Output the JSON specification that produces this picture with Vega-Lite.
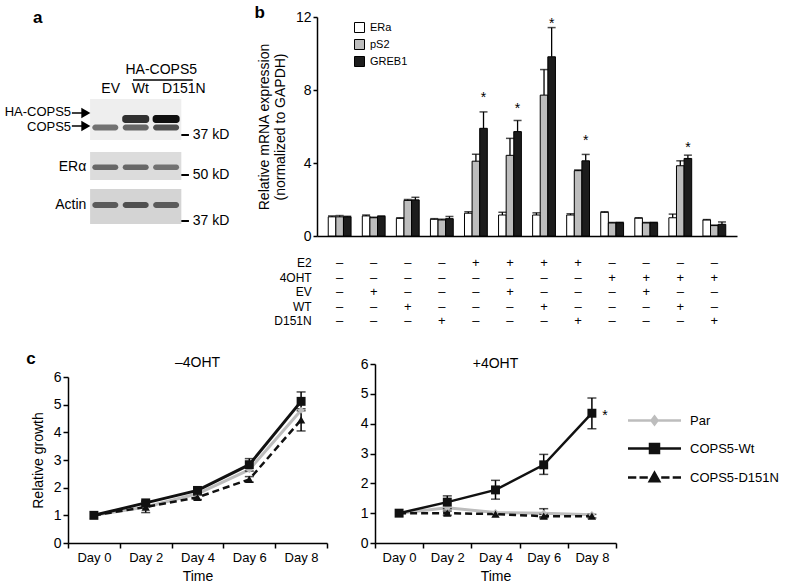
{
 "$schema": "https://vega.github.io/schema/vega-lite/v6.json",
 "padding": {"left": 4, "top": 4, "right": 0, "bottom": 0},
 "config": {
  "font": "Liberation Sans",
  "view": {"stroke": null},
  "axis": {"domainColor": "#000", "tickColor": "#000", "labelColor": "#000", "titleColor": "#000", "domainWidth": 1.5, "tickWidth": 1.5, "labelFontSize": 13, "titleFontSize": 14, "titleFontWeight": "normal", "grid": false, "tickSize": 5},
  "legend": {"labelColor": "#000"},
  "text": {"color": "#000"}
 },
 "datasets": {
  "expr": [
   {"g":"1","gene":"ERa","v":1.05,"hi":1.1},{"g":"1","gene":"pS2","v":1.05,"hi":1.12},{"g":"1","gene":"GREB1","v":1.05,"hi":1.08},
   {"g":"2","gene":"ERa","v":1.1,"hi":1.15},{"g":"2","gene":"pS2","v":1.0,"hi":1.03},{"g":"2","gene":"GREB1","v":1.08,"hi":1.1},
   {"g":"3","gene":"ERa","v":0.97,"hi":1.0},{"g":"3","gene":"pS2","v":1.95,"hi":2.0},{"g":"3","gene":"GREB1","v":1.98,"hi":2.12},
   {"g":"4","gene":"ERa","v":0.92,"hi":0.95},{"g":"4","gene":"pS2","v":0.88,"hi":0.92},{"g":"4","gene":"GREB1","v":0.95,"hi":1.07},
   {"g":"5","gene":"ERa","v":1.25,"hi":1.33},{"g":"5","gene":"pS2","v":4.1,"hi":4.48},{"g":"5","gene":"GREB1","v":5.9,"hi":6.8},
   {"g":"6","gene":"ERa","v":1.15,"hi":1.3},{"g":"6","gene":"pS2","v":4.42,"hi":5.35},{"g":"6","gene":"GREB1","v":5.72,"hi":6.33},
   {"g":"7","gene":"ERa","v":1.15,"hi":1.27},{"g":"7","gene":"pS2","v":7.72,"hi":9.12},{"g":"7","gene":"GREB1","v":9.82,"hi":11.42},
   {"g":"8","gene":"ERa","v":1.15,"hi":1.22},{"g":"8","gene":"pS2","v":3.58,"hi":3.62},{"g":"8","gene":"GREB1","v":4.12,"hi":4.47},
   {"g":"9","gene":"ERa","v":1.3,"hi":1.33},{"g":"9","gene":"pS2","v":0.72,"hi":0.74},{"g":"9","gene":"GREB1","v":0.73,"hi":0.75},
   {"g":"10","gene":"ERa","v":0.98,"hi":1.0},{"g":"10","gene":"pS2","v":0.72,"hi":0.74},{"g":"10","gene":"GREB1","v":0.73,"hi":0.75},
   {"g":"11","gene":"ERa","v":1.0,"hi":1.2},{"g":"11","gene":"pS2","v":3.85,"hi":4.12},{"g":"11","gene":"GREB1","v":4.25,"hi":4.43},
   {"g":"12","gene":"ERa","v":0.88,"hi":0.9},{"g":"12","gene":"pS2","v":0.57,"hi":0.6},{"g":"12","gene":"GREB1","v":0.64,"hi":0.77}
  ],
  "stars": [
   {"g":"5","gene":"GREB1","y":7.7},{"g":"6","gene":"GREB1","y":7.1},{"g":"7","gene":"GREB1","y":11.8},{"g":"8","gene":"GREB1","y":5.38},{"g":"11","gene":"GREB1","y":4.98}
  ],
  "design": [
   {"g":"1","E2":"–","4OHT":"–","EV":"–","WT":"–","D151N":"–"},
   {"g":"2","E2":"–","4OHT":"–","EV":"+","WT":"–","D151N":"–"},
   {"g":"3","E2":"–","4OHT":"–","EV":"–","WT":"+","D151N":"–"},
   {"g":"4","E2":"–","4OHT":"–","EV":"–","WT":"–","D151N":"+"},
   {"g":"5","E2":"+","4OHT":"–","EV":"–","WT":"–","D151N":"–"},
   {"g":"6","E2":"+","4OHT":"–","EV":"+","WT":"–","D151N":"–"},
   {"g":"7","E2":"+","4OHT":"–","EV":"–","WT":"+","D151N":"–"},
   {"g":"8","E2":"+","4OHT":"–","EV":"–","WT":"–","D151N":"+"},
   {"g":"9","E2":"–","4OHT":"+","EV":"–","WT":"–","D151N":"–"},
   {"g":"10","E2":"–","4OHT":"+","EV":"+","WT":"–","D151N":"–"},
   {"g":"11","E2":"–","4OHT":"+","EV":"–","WT":"+","D151N":"–"},
   {"g":"12","E2":"–","4OHT":"+","EV":"–","WT":"–","D151N":"+"}
  ],
  "growth": [
   {"panel":"minus","series":"Par","day":"Day 0","y":1.0},
   {"panel":"minus","series":"Par","day":"Day 2","y":1.3},
   {"panel":"minus","series":"Par","day":"Day 4","y":1.78},
   {"panel":"minus","series":"Par","day":"Day 6","y":2.65},
   {"panel":"minus","series":"Par","day":"Day 8","y":4.8},
   {"panel":"minus","series":"COPS5-D151N","day":"Day 0","y":1.0},
   {"panel":"minus","series":"COPS5-D151N","day":"Day 2","y":1.3,"lo":1.1,"hi":1.5},
   {"panel":"minus","series":"COPS5-D151N","day":"Day 4","y":1.65,"lo":1.57,"hi":1.73},
   {"panel":"minus","series":"COPS5-D151N","day":"Day 6","y":2.3,"lo":2.2,"hi":2.4},
   {"panel":"minus","series":"COPS5-D151N","day":"Day 8","y":4.45,"lo":4.05,"hi":4.85},
   {"panel":"minus","series":"COPS5-Wt","day":"Day 0","y":1.0},
   {"panel":"minus","series":"COPS5-Wt","day":"Day 2","y":1.45,"lo":1.38,"hi":1.52},
   {"panel":"minus","series":"COPS5-Wt","day":"Day 4","y":1.9,"lo":1.82,"hi":1.98},
   {"panel":"minus","series":"COPS5-Wt","day":"Day 6","y":2.83,"lo":2.6,"hi":3.05},
   {"panel":"minus","series":"COPS5-Wt","day":"Day 8","y":5.12,"lo":4.78,"hi":5.46},
   {"panel":"plus","series":"Par","day":"Day 0","y":1.0},
   {"panel":"plus","series":"Par","day":"Day 2","y":1.18},
   {"panel":"plus","series":"Par","day":"Day 4","y":1.02},
   {"panel":"plus","series":"Par","day":"Day 6","y":1.0,"lo":0.88,"hi":1.15},
   {"panel":"plus","series":"Par","day":"Day 8","y":0.95},
   {"panel":"plus","series":"COPS5-D151N","day":"Day 0","y":1.0},
   {"panel":"plus","series":"COPS5-D151N","day":"Day 2","y":1.0,"lo":0.93,"hi":1.07},
   {"panel":"plus","series":"COPS5-D151N","day":"Day 4","y":0.97},
   {"panel":"plus","series":"COPS5-D151N","day":"Day 6","y":0.9,"lo":0.84,"hi":0.96},
   {"panel":"plus","series":"COPS5-D151N","day":"Day 8","y":0.9,"lo":0.84,"hi":0.96},
   {"panel":"plus","series":"COPS5-Wt","day":"Day 0","y":1.0},
   {"panel":"plus","series":"COPS5-Wt","day":"Day 2","y":1.37,"lo":1.15,"hi":1.58},
   {"panel":"plus","series":"COPS5-Wt","day":"Day 4","y":1.78,"lo":1.47,"hi":2.1},
   {"panel":"plus","series":"COPS5-Wt","day":"Day 6","y":2.62,"lo":2.3,"hi":2.97},
   {"panel":"plus","series":"COPS5-Wt","day":"Day 8","y":4.35,"lo":3.83,"hi":4.86}
  ],
  "bands": [
   {"lane":2,"protein":"HA-COPS5","intensity":0.8},{"lane":3,"protein":"HA-COPS5","intensity":0.97},
   {"lane":1,"protein":"COPS5","intensity":0.5},{"lane":2,"protein":"COPS5","intensity":0.55},{"lane":3,"protein":"COPS5","intensity":0.65},
   {"lane":1,"protein":"ERα","intensity":0.55},{"lane":2,"protein":"ERα","intensity":0.55},{"lane":3,"protein":"ERα","intensity":0.5},
   {"lane":1,"protein":"Actin","intensity":0.6},{"lane":2,"protein":"Actin","intensity":0.65},{"lane":3,"protein":"Actin","intensity":0.6}
  ],
  "lanes": [{"lane":1,"label":"EV"},{"lane":2,"label":"Wt"},{"lane":3,"label":"D151N"}]
 },
 "bounds": "flush",
 "columns": 2,
 "spacing": {"row": 128, "column": 48},
 "resolve": {
  "scale": {"fill": "independent", "stroke": "independent", "shape": "independent", "color": "independent"},
  "legend": {"fill": "independent", "stroke": "independent", "shape": "independent", "color": "independent"}
 },
 "concat": [
  {
   "width": 201, "height": 219,
   "data": {"values": [{}]},
   "layer": [
    {"mark": {"type": "rect", "color": "#eeeeee"},
     "encoding": {"x": {"datum": 0.5, "type": "quantitative", "scale": {"domain": [-0.0625, 6.21875], "nice": false, "zero": false}, "axis": null}, "x2": {"datum": 3.5},
                  "y": {"datum": 8.2, "type": "quantitative", "scale": {"domain": [0, 21.9], "nice": false, "zero": false, "reverse": true}, "axis": null}, "y2": {"datum": 12.3}}},
    {"mark": {"type": "rect", "color": "#dcdcdc"},
     "encoding": {"x": {"datum": 0.5, "type": "quantitative"}, "x2": {"datum": 3.5}, "y": {"datum": 13.5, "type": "quantitative"}, "y2": {"datum": 16.3}}},
    {"mark": {"type": "rect", "color": "#d4d4d4"},
     "encoding": {"x": {"datum": 0.5, "type": "quantitative"}, "x2": {"datum": 3.5}, "y": {"datum": 17.2, "type": "quantitative"}, "y2": {"datum": 20.7}}},
    {"data": {"name": "bands"}, "transform": [{"filter": "datum.protein === 'HA-COPS5'"}],
     "mark": {"type": "bar", "width": 27, "cornerRadius": 3},
     "encoding": {"x": {"field": "lane", "type": "quantitative"}, "y": {"datum": 9.8, "type": "quantitative"}, "y2": {"datum": 10.6},
                  "color": {"field": "intensity", "type": "quantitative", "scale": {"domain": [0, 1], "range": ["#f0f0f0", "#050505"]}, "legend": null}}},
    {"data": {"name": "bands"}, "transform": [{"filter": "datum.protein === 'COPS5'"}],
     "mark": {"type": "bar", "width": 26, "cornerRadius": 3},
     "encoding": {"x": {"field": "lane", "type": "quantitative"}, "y": {"datum": 10.75, "type": "quantitative"}, "y2": {"datum": 11.35},
                  "color": {"field": "intensity", "type": "quantitative", "legend": null}}},
    {"data": {"name": "bands"}, "transform": [{"filter": "datum.protein === 'ERα'"}],
     "mark": {"type": "bar", "width": 26, "cornerRadius": 3},
     "encoding": {"x": {"field": "lane", "type": "quantitative"}, "y": {"datum": 14.75, "type": "quantitative"}, "y2": {"datum": 15.3},
                  "color": {"field": "intensity", "type": "quantitative", "legend": null}}},
    {"data": {"name": "bands"}, "transform": [{"filter": "datum.protein === 'Actin'"}],
     "mark": {"type": "bar", "width": 26, "cornerRadius": 3},
     "encoding": {"x": {"field": "lane", "type": "quantitative"}, "y": {"datum": 18.5, "type": "quantitative"}, "y2": {"datum": 19.1},
                  "color": {"field": "intensity", "type": "quantitative", "legend": null}}},
    {"data": {"name": "lanes"}, "mark": {"type": "text", "fontSize": 14, "align": "left", "dx": -4},
     "encoding": {"x": {"field": "lane", "type": "quantitative"}, "y": {"datum": 7.2, "type": "quantitative"}, "text": {"field": "label"}}},
    {"mark": {"type": "text", "fontSize": 14, "text": "HA-COPS5"},
     "encoding": {"x": {"datum": 2.84, "type": "quantitative"}, "y": {"datum": 5.3, "type": "quantitative"}}},
    {"mark": {"type": "rule", "strokeWidth": 1.5, "color": "#000"},
     "encoding": {"x": {"datum": 1.91, "type": "quantitative"}, "x2": {"datum": 3.875}, "y": {"datum": 6.3, "type": "quantitative"}}},
    {"mark": {"type": "text", "fontSize": 13, "align": "right", "text": "HA-COPS5"},
     "encoding": {"x": {"datum": -0.125, "type": "quantitative"}, "y": {"datum": 9.45, "type": "quantitative"}}},
    {"mark": {"type": "text", "fontSize": 13, "align": "right", "text": "COPS5"},
     "encoding": {"x": {"datum": -0.125, "type": "quantitative"}, "y": {"datum": 10.95, "type": "quantitative"}}},
    {"mark": {"type": "rule", "strokeWidth": 1.5, "color": "#000"},
     "encoding": {"x": {"datum": -0.1, "type": "quantitative"}, "x2": {"datum": 0.3}, "y": {"datum": 9.6, "type": "quantitative"}}},
    {"mark": {"type": "rule", "strokeWidth": 1.5, "color": "#000"},
     "encoding": {"x": {"datum": -0.1, "type": "quantitative"}, "x2": {"datum": 0.3}, "y": {"datum": 10.9, "type": "quantitative"}}},
    {"mark": {"type": "point", "shape": "triangle-right", "size": 110, "filled": true, "color": "#000", "opacity": 1},
     "encoding": {"x": {"datum": 0.36, "type": "quantitative"}, "y": {"datum": 9.6, "type": "quantitative"}}},
    {"mark": {"type": "point", "shape": "triangle-right", "size": 110, "filled": true, "color": "#000", "opacity": 1},
     "encoding": {"x": {"datum": 0.36, "type": "quantitative"}, "y": {"datum": 10.9, "type": "quantitative"}}},
    {"mark": {"type": "rule", "strokeWidth": 2, "color": "#000"},
     "encoding": {"x": {"datum": 3.5, "type": "quantitative"}, "x2": {"datum": 3.75}, "y": {"datum": 11.8, "type": "quantitative"}}},
    {"mark": {"type": "rule", "strokeWidth": 2, "color": "#000"},
     "encoding": {"x": {"datum": 3.5, "type": "quantitative"}, "x2": {"datum": 3.75}, "y": {"datum": 15.8, "type": "quantitative"}}},
    {"mark": {"type": "rule", "strokeWidth": 2, "color": "#000"},
     "encoding": {"x": {"datum": 3.5, "type": "quantitative"}, "x2": {"datum": 3.75}, "y": {"datum": 20.4, "type": "quantitative"}}},
    {"mark": {"type": "text", "fontSize": 14, "align": "left", "text": "37 kD"},
     "encoding": {"x": {"datum": 3.875, "type": "quantitative"}, "y": {"datum": 11.8, "type": "quantitative"}}},
    {"mark": {"type": "text", "fontSize": 14, "align": "left", "text": "50 kD"},
     "encoding": {"x": {"datum": 3.875, "type": "quantitative"}, "y": {"datum": 15.8, "type": "quantitative"}}},
    {"mark": {"type": "text", "fontSize": 14, "align": "left", "text": "37 kD"},
     "encoding": {"x": {"datum": 3.875, "type": "quantitative"}, "y": {"datum": 20.4, "type": "quantitative"}}},
    {"mark": {"type": "text", "fontSize": 14, "align": "right", "text": "ERα"},
     "encoding": {"x": {"datum": 0.375, "type": "quantitative"}, "y": {"datum": 15.0, "type": "quantitative"}}},
    {"mark": {"type": "text", "fontSize": 14, "align": "right", "text": "Actin"},
     "encoding": {"x": {"datum": 0.375, "type": "quantitative"}, "y": {"datum": 18.8, "type": "quantitative"}}},
    {"mark": {"type": "text", "fontSize": 17, "fontWeight": "bold", "text": "a"},
     "encoding": {"x": {"datum": -1.22, "type": "quantitative"}, "y": {"datum": 0.1, "type": "quantitative"}}}
   ]
  },
  {
   "width": 362, "height": 219,
   "resolve": {"scale": {"y": "independent"}, "axis": {"y": "independent"}},
   "layer": [
    {
     "data": {"name": "expr"},
     "layer": [
      {"mark": {"type": "bar", "stroke": "#000", "strokeWidth": 1},
       "encoding": {
        "x": {"field": "g", "type": "ordinal", "scale": {"domain": ["1","2","3","4","5","6","7","8","9","10","11","12"], "range": [-58, 362], "paddingInner": 0.33, "paddingOuter": 0.33}, "axis": {"labels": false, "ticks": false, "title": null}},
        "xOffset": {"field": "gene", "type": "nominal", "scale": {"domain": ["ERa", "pS2", "GREB1"]}},
        "y": {"field": "v", "type": "quantitative", "scale": {"domain": [0, 12], "nice": false}, "axis": {"offset": 58, "values": [0,2,4,6,8,10,12], "labelFontSize": 14, "title": ["Relative mRNA expression", "(normalized to GAPDH)"], "titlePadding": 8, "tickSize": 4, "labelPadding": 2}},
        "fill": {"field": "gene", "type": "nominal", "scale": {"domain": ["ERa", "pS2", "GREB1"], "range": ["#ffffff", "#bdbdbd", "#1c1c1c"]},
                 "legend": {"orient": "none", "legendX": -21, "legendY": 5, "title": null, "symbolType": "square", "symbolSize": 100, "symbolStrokeColor": "#000", "symbolStrokeWidth": 1, "labelFontSize": 11, "rowPadding": 2, "labelOffset": 5}}
       }},
      {"mark": {"type": "rule", "strokeWidth": 1.3, "color": "#000"},
       "encoding": {"x": {"field": "g", "type": "ordinal"}, "xOffset": {"field": "gene", "type": "nominal"}, "y": {"field": "v", "type": "quantitative"}, "y2": {"field": "hi"}}},
      {"mark": {"type": "tick", "thickness": 1.5, "size": 8, "color": "#000"},
       "encoding": {"x": {"field": "g", "type": "ordinal"}, "xOffset": {"field": "gene", "type": "nominal"}, "y": {"field": "hi", "type": "quantitative"}}},
      {"data": {"name": "stars"}, "mark": {"type": "text", "fontSize": 14, "baseline": "middle", "dy": 3},
       "encoding": {"x": {"field": "g", "type": "ordinal"}, "xOffset": {"field": "gene", "type": "nominal"}, "y": {"field": "y", "type": "quantitative"}, "text": {"value": "*"}}},
      {"data": {"values": [{}]}, "mark": {"type": "text", "fontSize": 17, "fontWeight": "bold", "text": "b", "dx": -80, "dy": -4},
       "encoding": {"x": {"datum": "1", "type": "ordinal"}, "y": {"datum": 12, "type": "quantitative"}}}
     ]
    },
    {
     "data": {"name": "design"},
     "transform": [{"fold": ["E2", "4OHT", "EV", "WT", "D151N"], "as": ["factor", "sign"]}],
     "layer": [
      {"mark": {"type": "text", "fontSize": 13},
       "encoding": {
        "x": {"field": "g", "type": "ordinal"},
        "y": {"field": "factor", "type": "nominal", "scale": {"type": "point", "domain": ["E2", "4OHT", "EV", "WT", "D151N"], "range": [246, 304], "padding": 0}, "axis": null},
        "text": {"field": "sign"}
       }},
      {"transform": [{"filter": "datum.g === '1'"}],
       "mark": {"type": "text", "fontSize": 12, "align": "right", "dx": -28},
       "encoding": {
        "x": {"field": "g", "type": "ordinal"},
        "y": {"field": "factor", "type": "nominal"},
        "text": {"field": "factor"}
       }}
     ]
    }
   ]
  },
  {
   "width": 259, "height": 179,
   "data": {"name": "growth"},
   "transform": [{"filter": "datum.panel === 'minus'"}],
   "encoding": {
    "x": {"field": "day", "type": "ordinal", "bandPosition": 0.5, "scale": {"type": "band", "paddingInner": 0, "paddingOuter": 0, "domain": ["Day 0", "Day 2", "Day 4", "Day 6", "Day 8"]}, "axis": {"tickBand": "extent", "title": "Time", "labelAngle": 0, "labelPadding": 3, "titlePadding": 5}},
    "y": {"field": "y", "type": "quantitative", "scale": {"domain": [0, 6], "range": [179, 13], "nice": false}, "axis": {"values": [0,1,2,3,4,5,6], "title": "Relative growth", "labelFontSize": 14, "titlePadding": 8}}
   },
   "layer": [
    {"transform": [{"filter": "datum.series === 'Par'"}], "mark": {"type": "line", "strokeWidth": 3, "color": "#bdbdbd"}},
    {"transform": [{"filter": "datum.series === 'COPS5-D151N'"}], "mark": {"type": "line", "strokeWidth": 2.5, "color": "#111111", "strokeDash": [7, 4]}},
    {"transform": [{"filter": "datum.series === 'COPS5-Wt'"}], "mark": {"type": "line", "strokeWidth": 3, "color": "#111111"}},
    {"transform": [{"filter": "isValid(datum.lo)"}], "mark": {"type": "rule", "strokeWidth": 1.5, "color": "#000"},
     "encoding": {"y": {"field": "lo", "type": "quantitative"}, "y2": {"field": "hi"}}},
    {"transform": [{"filter": "isValid(datum.lo)"}], "mark": {"type": "tick", "thickness": 1.5, "size": 9, "color": "#000"},
     "encoding": {"y": {"field": "lo", "type": "quantitative"}}},
    {"transform": [{"filter": "isValid(datum.hi)"}], "mark": {"type": "tick", "thickness": 1.5, "size": 9, "color": "#000"},
     "encoding": {"y": {"field": "hi", "type": "quantitative"}}},
    {"transform": [{"filter": "datum.series === 'Par'"}], "mark": {"type": "point", "shape": "diamond", "size": 50, "filled": true, "color": "#bdbdbd", "opacity": 1}},
    {"transform": [{"filter": "datum.series === 'COPS5-D151N'"}], "mark": {"type": "point", "shape": "triangle-up", "size": 70, "filled": true, "color": "#111111", "opacity": 1}},
    {"transform": [{"filter": "datum.series === 'COPS5-Wt'"}], "mark": {"type": "point", "shape": "square", "size": 80, "filled": true, "color": "#111111", "opacity": 1}},
    {"transform": [{"filter": "datum.series === 'Par' && datum.day === 'Day 0'"}], "mark": {"type": "text", "fontSize": 14, "text": "–4OHT"},
     "encoding": {"x": {"datum": "Day 4", "type": "ordinal", "bandPosition": 0.5}, "y": {"datum": 6.5, "type": "quantitative"}}},
    {"transform": [{"filter": "datum.series === 'Par' && datum.day === 'Day 0'"}], "mark": {"type": "text", "fontSize": 17, "fontWeight": "bold", "text": "c", "dx": -63},
     "encoding": {"x": {"datum": "Day 0", "type": "ordinal", "bandPosition": 0.5}, "y": {"datum": 6.65, "type": "quantitative"}}}
   ]
  },
  {
   "width": 241, "height": 179,
   "data": {"name": "growth"},
   "transform": [{"filter": "datum.panel === 'plus'"}],
   "encoding": {
    "x": {"field": "day", "type": "ordinal", "bandPosition": 0.5, "scale": {"type": "band", "paddingInner": 0, "paddingOuter": 0, "domain": ["Day 0", "Day 2", "Day 4", "Day 6", "Day 8"]}, "axis": {"tickBand": "extent", "title": "Time", "labelAngle": 0, "labelPadding": 3, "titlePadding": 5}},
    "y": {"field": "y", "type": "quantitative", "scale": {"domain": [0, 6], "nice": false}, "axis": {"values": [0,1,2,3,4,5,6], "title": null, "labelFontSize": 14}}
   },
   "layer": [
    {"transform": [{"filter": "datum.series === 'Par'"}], "mark": {"type": "line", "strokeWidth": 3, "color": "#bdbdbd"}},
    {"transform": [{"filter": "datum.series === 'COPS5-D151N'"}], "mark": {"type": "line", "strokeWidth": 2.5, "color": "#111111", "strokeDash": [7, 4]}},
    {"transform": [{"filter": "datum.series === 'COPS5-Wt'"}], "mark": {"type": "line", "strokeWidth": 2.5, "color": "#111111"}},
    {"transform": [{"filter": "isValid(datum.lo)"}], "mark": {"type": "rule", "strokeWidth": 1.5, "color": "#000"},
     "encoding": {"y": {"field": "lo", "type": "quantitative"}, "y2": {"field": "hi"}}},
    {"transform": [{"filter": "isValid(datum.lo)"}], "mark": {"type": "tick", "thickness": 1.5, "size": 9, "color": "#000"},
     "encoding": {"y": {"field": "lo", "type": "quantitative"}}},
    {"transform": [{"filter": "isValid(datum.hi)"}], "mark": {"type": "tick", "thickness": 1.5, "size": 9, "color": "#000"},
     "encoding": {"y": {"field": "hi", "type": "quantitative"}}},
    {"transform": [{"filter": "datum.series === 'Par'"}], "mark": {"type": "point", "shape": "diamond", "size": 50, "filled": true, "color": "#bdbdbd", "opacity": 1}},
    {"transform": [{"filter": "datum.series === 'COPS5-D151N'"}], "mark": {"type": "point", "shape": "triangle-up", "size": 70, "filled": true, "color": "#111111", "opacity": 1}},
    {"transform": [{"filter": "datum.series === 'COPS5-Wt'"}], "mark": {"type": "point", "shape": "square", "size": 80, "filled": true, "color": "#111111", "opacity": 1}},
    {"transform": [{"filter": "datum.day === 'Day 0'"}], "mark": {"type": "point", "opacity": 0},
     "encoding": {
      "shape": {"field": "series", "type": "nominal",
       "scale": {"domain": ["Par", "COPS5-Wt", "COPS5-D151N"], "range": [
        "M-5.3,0H5.3M0,-0.8L0.6,0L0,0.8L-0.6,0Z",
        "M-5.3,0H5.3M-0.9,-0.9H0.9V0.9H-0.9Z",
        "M-5.3,0H-3.64M-3,0H-1.34M1.34,0H3M3.64,0H5.3M0,-0.95L0.95,0.75H-0.95Z"]},
       "legend": {"orient": "none", "legendX": 273, "legendY": 50, "title": null, "symbolSize": 100, "labelOffset": 29, "labelFontSize": 13, "rowPadding": 9, "symbolStrokeWidth": 2.5, "symbolOpacity": 1}},
      "fill": {"field": "series", "type": "nominal", "scale": {"domain": ["Par", "COPS5-Wt", "COPS5-D151N"], "range": ["#bdbdbd", "#111111", "#111111"]}},
      "stroke": {"field": "series", "type": "nominal", "scale": {"domain": ["Par", "COPS5-Wt", "COPS5-D151N"], "range": ["#bdbdbd", "#111111", "#111111"]}}
     }},
    {"transform": [{"filter": "datum.series === 'Par' && datum.day === 'Day 0'"}], "mark": {"type": "text", "fontSize": 14, "text": "+4OHT"},
     "encoding": {"x": {"datum": "Day 4", "type": "ordinal", "bandPosition": 0.5}, "y": {"datum": 6, "type": "quantitative"}}},
    {"transform": [{"filter": "datum.series === 'COPS5-Wt' && datum.day === 'Day 8'"}], "mark": {"type": "text", "fontSize": 14, "text": "*", "dx": 13, "dy": 3}}
   ]
  }
 ]
}
